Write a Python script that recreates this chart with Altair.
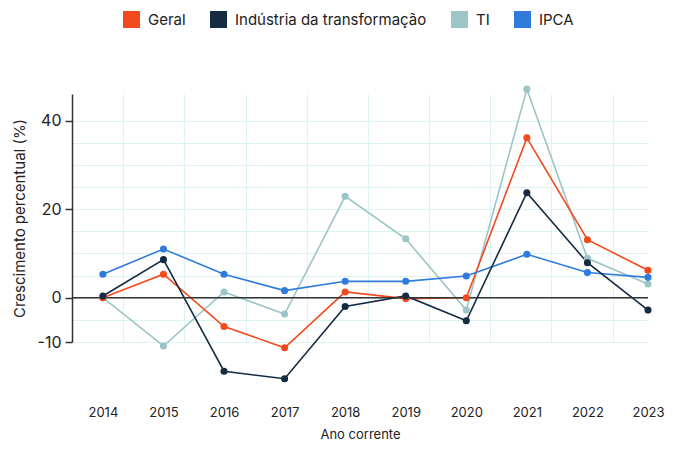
import altair as alt
import pandas as pd

years = list(range(2014, 2024))
geral = [0.0, 5.3, -6.5, -11.3, 1.3, -0.2, 0.0, 36.1, 13.1, 6.2]
industria = [0.4, 8.6, -16.6, -18.3, -2.0, 0.4, -5.2, 23.7, 7.9, -2.8]
ti = [0.0, -10.9, 1.3, -3.7, 22.9, 13.3, -2.8, 47.1, 8.9, 3.1]
ipca = [5.3, 11.0, 5.3, 1.6, 3.7, 3.7, 4.9, 9.8, 5.7, 4.6]

series_names = ["Geral", "Indústria da transformação", "TI", "IPCA"]
series_colors = ["#F24A1D", "#152B42", "#9CC5C8", "#2E7BDC"]
y_labels = [-10, 0, 20, 40]
y_grid = list(range(-10, 45, 5))
x_grid = [2014.33, 2015.34, 2016.36, 2017.37, 2018.38, 2019.39, 2020.39, 2021.40, 2022.42]

# drawing order: Indústria last (on top)
rows = []
for name, vals in [("TI", ti), ("Geral", geral), ("IPCA", ipca), ("Indústria da transformação", industria)]:
    for yr, v in zip(years, vals):
        rows.append({"Ano": yr, "Valor": v, "Serie": name})
df = pd.DataFrame(rows)

FONT = "Inter"
GRID = "#DDF2F2"
xscale = alt.Scale(domain=[2013.49, 2023], nice=False, zero=False)
yscale = alt.Scale(domain=[-10, 46], nice=False, zero=False)
cscale = alt.Scale(domain=series_names, range=series_colors)

lbl_test = "indexof([-10,0,20,40], datum.value) >= 0"

yaxis = alt.Axis(
    values=y_grid, grid=True, gridColor=GRID, gridWidth=1,
    labelExpr=lbl_test + " ? toString(datum.value) : ''",
    labelFontSize=16, labelColor="#222", labelPadding=4,
    tickSize=7, tickColor="#333", tickWidth=1.5,
    tickOpacity={"condition": {"test": lbl_test, "value": 1}, "value": 0},
    domain=True, domainColor="#333", domainWidth=1.5,
    title="Crescimento percentual (%)", titleFontSize=15,
    titleFontWeight="normal", titleColor="#222", titlePadding=10)

legend = alt.Legend(
    orient="none", legendX=51, legendY=-83, direction="horizontal",
    title=None, symbolType="square", symbolSize=289, symbolStrokeWidth=0,
    symbolOpacity=1, labelFontSize=15, labelColor="#222", labelOffset=8,
    labelLimit=0, columnPadding=24)

lines = alt.Chart(df).mark_line(strokeWidth=1.6, clip=False).encode(
    x=alt.X("Ano:Q", scale=xscale, axis=alt.Axis(
        values=years, format="d", grid=False, ticks=False, domain=False,
        labelPadding=64, labelFontSize=13, labelColor="#222", labelFlush=False,
        title="Ano corrente", titleFontSize=13, titleFontWeight="normal",
        titleColor="#222", titlePadding=9)),
    y=alt.Y("Valor:Q", scale=yscale, axis=yaxis),
    color=alt.Color("Serie:N", scale=cscale),
    detail="Serie:N",
)

points = alt.Chart(df).mark_circle(size=50, opacity=1, clip=False).encode(
    x=alt.X("Ano:Q", scale=xscale, axis=alt.Axis(
        orient="top", values=x_grid, grid=True, gridColor=GRID, gridWidth=1,
        labels=False, ticks=False, domain=False, title=None)),
    y=alt.Y("Valor:Q", scale=yscale, axis=yaxis),
    color=alt.Color("Serie:N", scale=cscale, legend=legend),
)

zero = alt.Chart(pd.DataFrame({"Valor": [0]})).mark_rule(color="#333", strokeWidth=1.5).encode(
    y=alt.Y("Valor:Q", scale=yscale, axis=yaxis)
)

chart = alt.layer(lines, zero, points).resolve_axis(x="independent").properties(
    width=576, height=248,
    autosize=alt.AutoSizeParams(type="none"),
    padding={"left": 64, "top": 86, "right": 17, "bottom": 99},
).configure(font=FONT).configure_view(stroke=None)

chart.save("out.html", embed_options={"renderer": "svg", "actions": False})
